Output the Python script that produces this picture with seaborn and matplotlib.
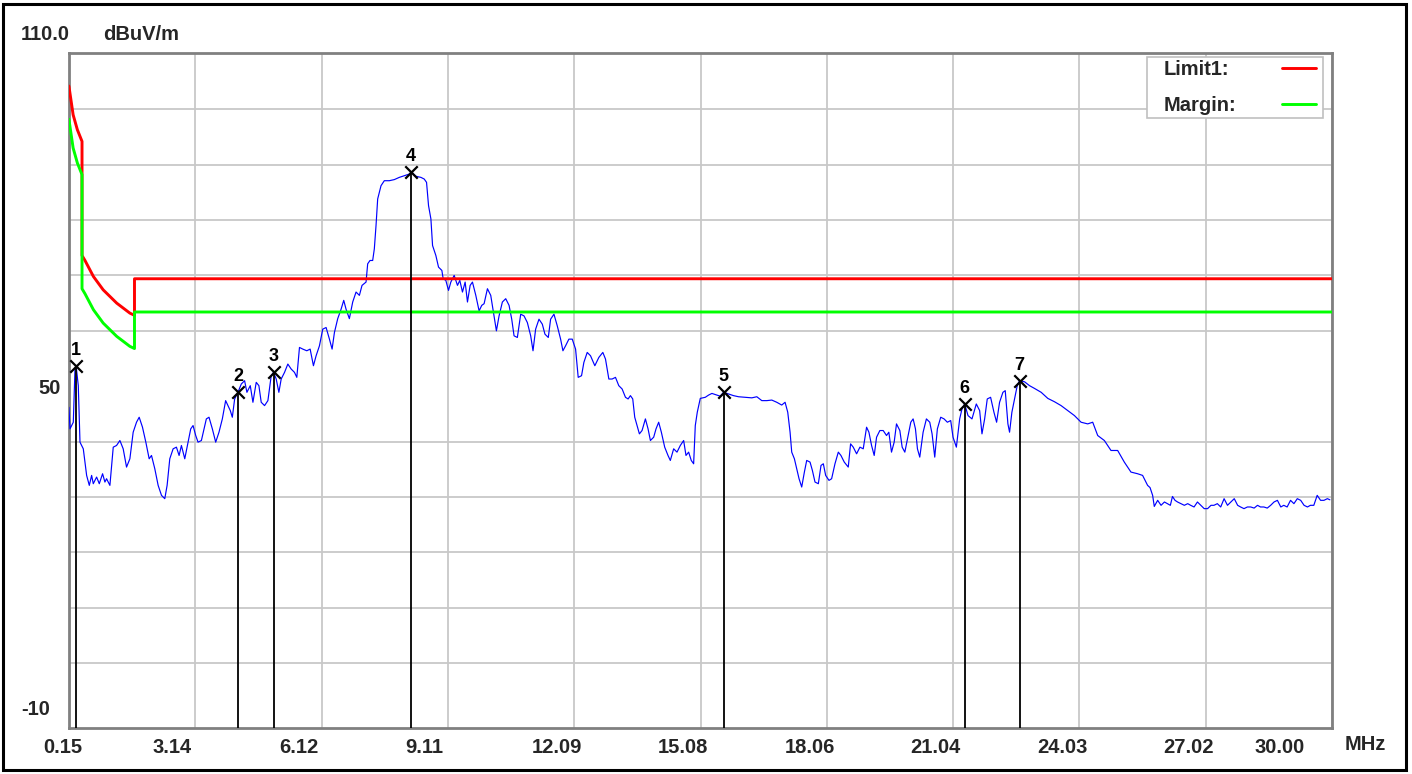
import matplotlib
matplotlib.use("Agg")
import matplotlib.pyplot as plt
import matplotlib.patches as mpatches
from matplotlib.transforms import ScaledTranslation
from matplotlib.offsetbox import DrawingArea
import seaborn as sns
import pandas as pd

# ---------------- data ----------------
trace_points = [
    (0.15, 46.2), (0.176, 42.3), (0.254, 43.5), (0.294, 53.1), (0.32, 53.7), (0.372, 50.1),
    (0.412, 39.9), (0.490, 38.7), (0.569, 33.9), (0.632, 32.1), (0.687, 33.9), (0.726, 32.4),
    (0.805, 33.6), (0.868, 32.4), (0.946, 34.2), (1.001, 32.7), (1.040, 33.3), (1.119, 32.1),
    (1.198, 39.0), (1.276, 39.3), (1.355, 40.2), (1.433, 38.7), (1.512, 35.4), (1.591, 36.9),
    (1.669, 41.7), (1.748, 43.5), (1.811, 44.4), (1.889, 42.6), (1.968, 39.9), (2.047, 36.9),
    (2.102, 37.5), (2.180, 35.1), (2.259, 32.1), (2.338, 30.3), (2.416, 29.7), (2.471, 32.1),
    (2.534, 36.9), (2.613, 38.7), (2.691, 39.0), (2.754, 37.5), (2.809, 39.3), (2.888, 36.9),
    (2.966, 39.9), (3.029, 42.3), (3.084, 42.9), (3.147, 41.1), (3.202, 39.9), (3.281, 40.2),
    (3.343, 42.3), (3.398, 44.1), (3.461, 44.4), (3.540, 42.3), (3.619, 39.9), (3.697, 41.7),
    (3.776, 44.1), (3.854, 47.4), (3.909, 46.5), (3.964, 45.6), (4.012, 44.4), (4.067, 47.7),
    (4.145, 48.9), (4.224, 50.4), (4.302, 51.0), (4.357, 48.9), (4.436, 50.1), (4.499, 47.1),
    (4.577, 50.7), (4.640, 50.1), (4.695, 47.1), (4.774, 46.5), (4.853, 47.4), (4.931, 51.9),
    (4.986, 52.5), (5.049, 51.3), (5.112, 48.9), (5.167, 51.3), (5.246, 52.5), (5.324, 54.0),
    (5.403, 53.1), (5.481, 52.5), (5.536, 51.6), (5.599, 57.0), (5.678, 56.7), (5.772, 56.4),
    (5.851, 56.7), (5.929, 53.7), (5.992, 55.5), (6.071, 57.3), (6.149, 60.3), (6.228, 60.6),
    (6.307, 58.5), (6.370, 56.7), (6.425, 59.7), (6.503, 62.2), (6.582, 63.9), (6.645, 65.5),
    (6.700, 63.9), (6.778, 62.2),
    (6.857, 65.2), (6.936, 67.0), (7.015, 66.4), (7.077, 68.2), (7.172, 68.8), (7.211, 72.1),
    (7.266, 72.7), (7.329, 72.7), (7.368, 74.8), (7.408, 79.0), (7.447, 83.8), (7.526, 86.2),
    (7.604, 87.1), (7.722, 87.1), (7.840, 87.3), (7.958, 87.7), (8.076, 88.0), (8.194, 88.3),
    (8.241, 88.7), (8.351, 87.9), (8.469, 87.7), (8.547, 87.4), (8.602, 86.8), (8.649, 82.6),
    (8.705, 80.2), (8.744, 75.4), (8.822, 73.6), (8.885, 71.5), (8.964, 70.9), (8.995, 69.4),
    (9.058, 69.1), (9.121, 67.3), (9.176, 68.8), (9.255, 70.0), (9.333, 68.2), (9.388, 69.1),
    (9.451, 67.0), (9.514, 68.8), (9.569, 65.2), (9.632, 68.2), (9.687, 68.8), (9.766, 66.4),
    (9.844, 63.6), (9.907, 64.6), (9.962, 64.9), (10.041, 67.6), (10.119, 66.4), (10.198, 62.7),
    (10.253, 60.0), (10.316, 62.7), (10.394, 65.2), (10.473, 65.8), (10.552, 64.6), (10.615, 62.1),
    (10.670, 59.1), (10.748, 58.8), (10.827, 63.0), (10.905, 62.7), (10.984, 61.5), (11.063, 59.1),
    (11.118, 56.4), (11.180, 60.3), (11.259, 62.1), (11.338, 61.2), (11.400, 59.4), (11.479, 58.8),
    (11.534, 62.1), (11.613, 63.0), (11.691, 60.9), (11.770, 58.5), (11.825, 56.4), (11.888, 57.3),
    (11.966, 58.5), (12.045, 58.5), (12.124, 56.7), (12.186, 51.6), (12.265, 51.9), (12.320, 54.3),
    (12.399, 56.1), (12.477, 55.5), (12.579, 53.7), (12.674, 55.2), (12.768, 56.1), (12.831, 54.9),
    (12.910, 51.3), (12.988, 51.3), (13.067, 51.6), (13.145, 50.1), (13.224, 49.5), (13.303, 48.0),
    (13.365, 47.7), (13.420, 48.3), (13.475, 47.7), (13.522, 44.4), (13.577, 42.9), (13.632, 41.4),
    (13.695, 42.0), (13.774, 44.1), (13.837, 42.3), (13.892, 40.2), (13.970, 40.8), (14.025, 42.3),
    (14.088, 43.5), (14.151, 41.7), (14.230, 39.0), (14.308, 37.5), (14.363, 36.6), (14.442, 38.7),
    (14.521, 38.1), (14.599, 39.3), (14.678, 40.2), (14.733, 37.5), (14.796, 38.1), (14.858, 36.6),
    (14.914, 36.0), (14.953, 42.9), (15.000, 45.3), (15.071, 47.8), (15.189, 48.0), (15.267, 48.4),
    (15.346, 48.7), (15.464, 48.4), (15.542, 48.2), (15.621, 48.9), (15.739, 48.6), (15.857, 48.3),
    (15.975, 48.1), (16.132, 48.0), (16.289, 47.9), (16.407, 48.1), (16.525, 47.4), (16.643, 47.4),
    (16.761, 47.5), (16.879, 47.1), (16.996, 46.6), (17.075, 47.1), (17.138, 45.3), (17.193, 41.7),
    (17.232, 38.1), (17.295, 36.9), (17.350, 35.1), (17.405, 33.3), (17.468, 31.8), (17.531, 34.5),
    (17.586, 36.6), (17.665, 36.3), (17.720, 34.8), (17.782, 32.7), (17.861, 32.4), (17.924, 35.7),
    (17.979, 36.0), (18.034, 33.9), (18.113, 33.0), (18.175, 33.3), (18.254, 36.0), (18.333, 38.1),
    (18.395, 37.5), (18.474, 36.3), (18.568, 35.4), (18.623, 39.6), (18.686, 39.0), (18.765, 37.8),
    (18.844, 39.0), (18.922, 38.7), (19.001, 42.6), (19.056, 41.7), (19.119, 39.3), (19.181, 37.5),
    (19.237, 40.8), (19.315, 42.0), (19.394, 42.0), (19.472, 41.1), (19.527, 41.7), (19.590, 38.1),
    (19.653, 39.9), (19.708, 43.2), (19.787, 42.0), (19.842, 39.0), (19.905, 38.1), (19.983, 41.1),
    (20.046, 43.5), (20.101, 44.1), (20.156, 42.3), (20.203, 38.7), (20.258, 37.2), (20.337, 41.7),
    (20.415, 44.1), (20.494, 43.5), (20.549, 41.4), (20.612, 37.2), (20.674, 42.3), (20.753, 44.4),
    (20.832, 44.1), (20.910, 43.5), (20.989, 43.8), (21.044, 40.8), (21.123, 39.0), (21.201, 44.1),
    (21.256, 45.9), (21.319, 46.8), (21.398, 44.7), (21.492, 44.1), (21.594, 46.8), (21.673, 45.6),
    (21.728, 41.4), (21.791, 44.1), (21.853, 47.7), (21.932, 48.0), (22.011, 45.3), (22.074, 43.5),
    (22.144, 47.1), (22.223, 48.9), (22.278, 49.2), (22.341, 43.2), (22.380, 41.7), (22.435, 45.3),
    (22.498, 47.7), (22.561, 50.1), (22.616, 51.0), (22.734, 50.8), (22.852, 50.1), (22.970, 49.6),
    (23.127, 48.9), (23.284, 47.8), (23.441, 47.2), (23.598, 46.5), (23.756, 45.6), (23.913, 44.7),
    (24.070, 43.5), (24.227, 43.2), (24.345, 43.5), (24.463, 41.1), (24.620, 40.2), (24.777, 38.4),
    (24.935, 38.4), (25.092, 36.3), (25.249, 34.5), (25.406, 34.2), (25.524, 33.9), (25.642, 32.1),
    (25.700, 31.7), (25.761, 30.3), (25.800, 28.3), (25.88, 29.4), (25.96, 28.5), (26.04, 29.1),
    (26.11, 28.8), (26.18, 28.5), (26.23, 30.1), (26.29, 29.4), (26.35, 29.1), (26.43, 28.8),
    (26.51, 28.5), (26.59, 28.8), (26.66, 28.5), (26.74, 28.2), (26.82, 29.1), (26.90, 28.5),
    (26.98, 27.9), (27.06, 27.9), (27.14, 28.5), (27.21, 28.5), (27.29, 28.8), (27.37, 28.2),
    (27.45, 29.7), (27.53, 28.5), (27.61, 29.1), (27.69, 29.7), (27.77, 28.5), (27.84, 28.2),
    (27.92, 27.9), (28.00, 28.2), (28.08, 28.2), (28.16, 28.0), (28.24, 28.5), (28.31, 28.2),
    (28.39, 28.2), (28.47, 28.0), (28.55, 28.5), (28.63, 29.1), (28.71, 29.4), (28.79, 28.2),
    (28.86, 28.5), (28.94, 28.2), (29.02, 29.4), (29.10, 28.8), (29.18, 29.7), (29.26, 29.4),
    (29.34, 28.5), (29.42, 28.2), (29.49, 28.5), (29.57, 28.5), (29.65, 30.3), (29.73, 29.4),
    (29.81, 29.4), (29.89, 29.7), (29.95, 29.5),
]

limit_freq = [0.15, 0.25, 0.35, 0.46, 0.46, 0.53, 0.73, 0.96, 1.28, 1.59, 1.70, 1.70, 30.0]
limit_level = [104.2, 99.0, 96.3, 94.2, 73.6, 72.7, 69.8, 67.4, 65.0, 63.2, 62.8, 69.4, 69.4]
margin_level = [98.2, 93.0, 90.3, 88.2, 67.6, 66.7, 63.8, 61.4, 59.0, 57.2, 56.8, 63.4, 63.4]

marker_ids = ["1", "2", "3", "4", "5", "6", "7"]
marker_freq = [0.32, 4.15, 4.99, 8.24, 15.62, 21.32, 22.62]
marker_level = [53.7, 48.9, 52.5, 88.7, 48.9, 46.8, 51.0]

xtick_values = [0.15, 3.14, 6.12, 9.11, 12.09, 15.08, 18.06, 21.04, 24.03, 27.02, 30.00]
xtick_labels = ["0.15", "3.14", "6.12", "9.11", "12.09", "15.08", "18.06", "21.04", "24.03", "27.02", "30.00"]
# label left edge relative to its grid line (pixels)
xlabel_dx_px = [-26, -42.5, -42.5, -42.5, -42.5, -42.5, -42.5, -42.5, -42.5, -42.5, -77]
ygrid_values = [0, 10, 20, 30, 40, 50, 60, 70, 80, 90, 100]
ytick_values = [-10, 50]
ytick_labels = ["-10", "50"]

# ---------------- figure ----------------
sns.set_style("white")
plt.rcParams['font.family'] = ['Liberation Sans', 'DejaVu Sans']
FS = 14.5
W, H = 1412, 774
fig = plt.figure(figsize=(W / 100, H / 100), dpi=100)
fig.patch.set_facecolor("white")
L, R, T, B = 68.9, 1332.0, 53.3, 728.0
ax = fig.add_axes([L / W, 1 - B / H, (R - L) / W, (B - T) / H])

trace = pd.DataFrame(trace_points, columns=["freq", "level"])
lim_df = pd.DataFrame({"freq": limit_freq, "limit": limit_level, "margin": margin_level})

sns.lineplot(data=trace, x="freq", y="level", ax=ax, color="#0000ff", lw=0.85,
             estimator=None, sort=False, zorder=3)
sns.lineplot(data=lim_df, x="freq", y="limit", ax=ax, color="#ff0000", lw=2.1,
             estimator=None, sort=False, label="Limit1:", zorder=4)
sns.lineplot(data=lim_df, x="freq", y="margin", ax=ax, color="#00ff00", lw=2.1,
             estimator=None, sort=False, label="Margin:", zorder=5)

ax.set_xlim(0.15, 30.0)
ax.set_ylim(-11.7, 110.1)
ymin = ax.get_ylim()[0]

ax.vlines(marker_freq, ymin, marker_level, colors="black", lw=1.3, zorder=6)
ax.scatter(marker_freq, marker_level, marker="x", s=80, c="black", linewidths=1.6, zorder=7)
for mid, mf, ml in zip(marker_ids, marker_freq, marker_level):
    ax.annotate(mid, (mf, ml), xytext=(0, 5), textcoords="offset points", ha="center",
                va="bottom", fontsize=13, fontweight="bold", color="black", zorder=8)

# ticks and grid
ax.set_xticks(xtick_values)
ax.set_xticklabels(xtick_labels, fontsize=FS, fontweight="bold", ha="left")
ax.set_yticks(ytick_values)
ax.set_yticklabels(ytick_labels, fontsize=FS, fontweight="bold")
ax.set_yticks(ygrid_values, minor=True)
ax.tick_params(axis="both", which="both", length=0)
ax.tick_params(axis="x", pad=7)
ax.tick_params(axis="y", pad=6)
ax.grid(True, which="major", axis="x", color="#c8c8c8", lw=1.3, zorder=0)
ax.grid(True, which="minor", axis="y", color="#c8c8c8", lw=1.3, zorder=0)
ax.set_axisbelow(True)
ax.set_xlabel("")
ax.set_ylabel("")
for s in ax.spines.values():
    s.set_color("#808080")
    s.set_linewidth(2.0)
    s.set_visible(True)

# legend (text on the left, line sample on the right)
leg = ax.legend(loc="upper right", bbox_to_anchor=(1323 / W, 1 - 57.0 / H),
                bbox_transform=fig.transFigure, borderaxespad=0, markerfirst=False,
                fancybox=False, framealpha=1, edgecolor="#c0c0c0",
                prop={"size": FS, "weight": "bold"}, handlelength=1.69,
                handletextpad=0.0, borderpad=0.15, labelspacing=0.84)
leg.get_frame().set_linewidth(1.2)
for line in leg.get_lines():
    line.set_linewidth(2.1)

# header / unit text
fig.text(21 / W, 1 - 35 / H, "110.0", fontsize=FS, fontweight="bold", ha="left", va="center")
fig.text(103 / W, 1 - 35 / H, "dBuV/m", fontsize=FS, fontweight="bold", ha="left", va="center")
fig.text(1345 / W, 1 - 745 / H, "MHz", fontsize=FS, fontweight="bold", ha="left", va="center")

# outer black frame
fig.patches.append(mpatches.Rectangle((3 / W, 4 / H), (1406 - 3) / W, (770 - 4) / H,
                                      transform=fig.transFigure, fill=False,
                                      edgecolor="black", lw=2.2))

fig.canvas.draw()
renderer = fig.canvas.get_renderer()
pt = 72.0 / fig.dpi
rows = [row for col in leg._legend_handle_box.get_children() for row in col.get_children()]
widths = [t.get_window_extent(renderer).width for t in leg.texts]
maxw = max(widths)
for row, w in zip(rows, widths):
    kids = row.get_children()
    text_box, handle_box = kids[0], kids[1]
    row.sep = 0
    row._children = [DrawingArea(13 * pt, 1), text_box,
                     DrawingArea((maxw - w + 46) * pt, 1), handle_box,
                     DrawingArea(4 * pt, 1)]

for lab, dx in zip(ax.get_xticklabels(), xlabel_dx_px):
    lab.set_transform(lab.get_transform() + ScaledTranslation(dx / 100, 0, fig.dpi_scale_trans))
ylabs = ax.get_yticklabels()
ylabs[0].set_transform(ylabs[0].get_transform() + ScaledTranslation(-10 / 100, 11 / 100, fig.dpi_scale_trans))

fig.savefig("out.png", dpi=100)
